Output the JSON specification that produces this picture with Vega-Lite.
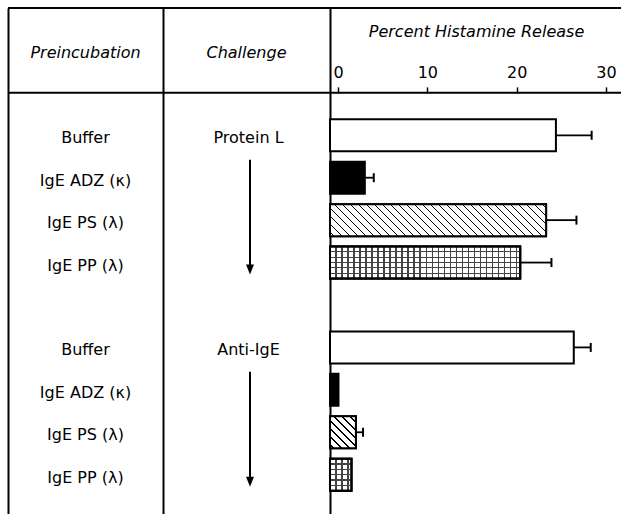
{
  "$schema": "https://vega.github.io/schema/vega-lite/v6.json",
  "padding": {"left": 7, "top": 7, "right": 0, "bottom": 0},
  "config": {"view": {"stroke": null}, "font": "DejaVu Sans", "scale": {"continuousPadding": 0}},
  "datasets": {
    "bars": [
      {"row": 1, "challenge": "Protein L", "preincubation": "Buffer", "kind": "buffer", "value": 24.4, "err": 28.4},
      {"row": 2, "challenge": "Protein L", "preincubation": "IgE ADZ (κ)", "kind": "adz", "value": 3.0, "err": 4.0},
      {"row": 3, "challenge": "Protein L", "preincubation": "IgE PS (λ)", "kind": "ps", "value": 23.3, "err": 26.7},
      {"row": 4, "challenge": "Protein L", "preincubation": "IgE PP (λ)", "kind": "pp", "value": 20.4, "err": 23.9},
      {"row": 6, "challenge": "Anti-IgE", "preincubation": "Buffer", "kind": "buffer", "value": 26.4, "err": 28.3},
      {"row": 7, "challenge": "Anti-IgE", "preincubation": "IgE ADZ (κ)", "kind": "adz", "value": 0.05, "err": null},
      {"row": 8, "challenge": "Anti-IgE", "preincubation": "IgE PS (λ)", "kind": "ps", "value": 2.0, "err": 2.8},
      {"row": 9, "challenge": "Anti-IgE", "preincubation": "IgE PP (λ)", "kind": "pp", "value": 1.5, "err": null}
    ],
    "challenges": [
      {"challenge": "Protein L", "row": 1, "arrowFrom": 2, "arrowTo": 4},
      {"challenge": "Anti-IgE", "row": 6, "arrowFrom": 7, "arrowTo": 9}
    ],
    "headers": [
      {"header": "Preincubation", "row": -1, "line": 0, "top": -2},
      {"header": "Challenge", "row": -1, "line": 0, "top": -2}
    ]
  },
  "spacing": 0,
  "bounds": "flush",
  "hconcat": [
    {
      "width": 155, "height": 507,
      "layer": [
        {"data": {"name": "headers"}, "transform": [{"filter": "datum.header === 'Preincubation'"}], "mark": {"type": "rule", "color": "black", "strokeWidth": 2}, "encoding": {"y": {"field": "top", "type": "quantitative", "scale": {"domain": [-2, 9.95], "reverse": true, "nice": false, "zero": false, "padding": 0}, "axis": {"title": null, "labels": false, "ticks": false, "grid": false, "domain": true, "domainColor": "black", "domainWidth": 2}}}},
        {"data": {"name": "headers"}, "transform": [{"filter": "datum.header === 'Preincubation'"}], "mark": {"type": "rule", "color": "black", "strokeWidth": 2}, "encoding": {"y": {"field": "line", "type": "quantitative", "axis": {"title": null, "labels": false, "ticks": false, "grid": false, "domain": true, "domainColor": "black", "domainWidth": 2}}}},
        {"data": {"name": "headers"}, "transform": [{"filter": "datum.header === 'Preincubation'"}], "mark": {"type": "text", "fontSize": 16, "fontStyle": "italic", "dy": 3, "color": "black"}, "encoding": {"y": {"field": "row", "type": "quantitative", "axis": {"title": null, "labels": false, "ticks": false, "grid": false, "domain": true, "domainColor": "black", "domainWidth": 2}}, "text": {"field": "header"}}},
        {"data": {"name": "bars"}, "mark": {"type": "text", "fontSize": 16, "dy": 3, "color": "black"}, "encoding": {"y": {"field": "row", "type": "quantitative", "axis": {"title": null, "labels": false, "ticks": false, "grid": false, "domain": true, "domainColor": "black", "domainWidth": 2}}, "text": {"field": "preincubation"}}}
      ]
    },
    {
      "width": 167, "height": 507,
      "layer": [
        {"data": {"name": "headers"}, "transform": [{"filter": "datum.header === 'Challenge'"}], "mark": {"type": "rule", "color": "black", "strokeWidth": 2}, "encoding": {"y": {"field": "top", "type": "quantitative", "scale": {"domain": [-2, 9.95], "reverse": true, "nice": false, "zero": false, "padding": 0}, "axis": {"title": null, "labels": false, "ticks": false, "grid": false, "domain": true, "domainColor": "black", "domainWidth": 2}}}},
        {"data": {"name": "headers"}, "transform": [{"filter": "datum.header === 'Challenge'"}], "mark": {"type": "rule", "color": "black", "strokeWidth": 2}, "encoding": {"y": {"field": "line", "type": "quantitative", "axis": {"title": null, "labels": false, "ticks": false, "grid": false, "domain": true, "domainColor": "black", "domainWidth": 2}}}},
        {"data": {"name": "headers"}, "transform": [{"filter": "datum.header === 'Challenge'"}], "mark": {"type": "text", "fontSize": 16, "fontStyle": "italic", "dy": 3, "color": "black"}, "encoding": {"y": {"field": "row", "type": "quantitative", "axis": {"title": null, "labels": false, "ticks": false, "grid": false, "domain": true, "domainColor": "black", "domainWidth": 2}}, "text": {"field": "header"}}},
        {"data": {"name": "challenges"}, "mark": {"type": "text", "fontSize": 16, "dy": 3, "dx": 2, "color": "black"}, "encoding": {"y": {"field": "row", "type": "quantitative", "axis": {"title": null, "labels": false, "ticks": false, "grid": false, "domain": true, "domainColor": "black", "domainWidth": 2}}, "text": {"field": "challenge"}}},
        {"data": {"name": "challenges"}, "mark": {"type": "rule", "color": "black", "strokeWidth": 2, "xOffset": 3.5, "yOffset": -18, "y2Offset": 6}, "encoding": {"y": {"field": "arrowFrom", "type": "quantitative", "axis": {"title": null, "labels": false, "ticks": false, "grid": false, "domain": true, "domainColor": "black", "domainWidth": 2}}, "y2": {"field": "arrowTo"}}},
        {"data": {"name": "challenges"}, "mark": {"type": "point", "shape": "M-0.8,-1L0.8,-1L0,1Z", "size": 100, "filled": true, "color": "black", "opacity": 1, "xOffset": 3.5, "yOffset": 7}, "encoding": {"y": {"field": "arrowTo", "type": "quantitative", "axis": {"title": null, "labels": false, "ticks": false, "grid": false, "domain": true, "domainColor": "black", "domainWidth": 2}}}}
      ]
    },
    {
      "width": 292, "height": 507,
      "data": {"name": "bars"},
      "layer": [
        {"data": {"name": "headers"}, "transform": [{"filter": "datum.header === 'Challenge'"}], "mark": {"type": "rule", "color": "black", "strokeWidth": 2}, "encoding": {"y": {"field": "top", "type": "quantitative", "scale": {"domain": [-2, 9.95], "reverse": true, "nice": false, "zero": false, "padding": 0}, "axis": {"title": null, "labels": false, "ticks": false, "grid": false, "domain": true, "domainColor": "black", "domainWidth": 2}}}},
        {"data": {"name": "headers"}, "transform": [{"filter": "datum.header === 'Challenge'"}], "mark": {"type": "rule", "color": "black", "strokeWidth": 2}, "encoding": {"y": {"field": "line", "type": "quantitative", "axis": {"title": null, "labels": false, "ticks": false, "grid": false, "domain": true, "domainColor": "black", "domainWidth": 2}}}},
        {
          "mark": {"type": "bar", "orient": "horizontal", "height": 32, "stroke": "black", "strokeWidth": 2},
          "encoding": {
            "y": {"field": "row", "type": "quantitative", "axis": {"title": null, "labels": false, "ticks": false, "grid": false, "domain": true, "domainColor": "black", "domainWidth": 2}},
            "x": {"field": "value", "type": "quantitative", "scale": {"domain": [-0.9, 31.8], "nice": false, "zero": false, "padding": 0},
              "axis": {"orient": "top", "offset": -84.9, "values": [0, 10, 20, 30], "domain": false, "grid": false, "ticks": true, "tickSize": 6, "tickWidth": 1.5, "tickColor": "black", "labelFontSize": 16, "labelColor": "black", "labelPadding": 6, "labelFlush": false, "title": "Percent Histamine Release", "titleFontStyle": "italic", "titleFontWeight": "normal", "titleFontSize": 16, "titleColor": "black", "titleY": -53}},
            "x2": {"datum": -0.9},
            "fill": {"condition": {"test": "datum.kind === 'adz'", "value": "black"}, "value": "white"}
          }
        },
        {
          "transform": [{"filter": "datum.kind === 'ps' && datum.challenge === 'Protein L'"}],
          "mark": {"type": "bar", "orient": "horizontal", "height": 32, "stroke": "black", "strokeWidth": 2,
            "fill": {"gradient": "linear", "x1": 0, "y1": 1, "x2": 1.1235, "y2": 0.8336, "stops": [
              {"offset": 0, "color": "#fff"},
              {"offset": 0.0129, "color": "#fff"}, {"offset": 0.0129, "color": "#000"}, {"offset": 0.0194, "color": "#000"}, {"offset": 0.0194, "color": "#fff"},
              {"offset": 0.0452, "color": "#fff"}, {"offset": 0.0452, "color": "#000"}, {"offset": 0.0516, "color": "#000"}, {"offset": 0.0516, "color": "#fff"},
              {"offset": 0.0774, "color": "#fff"}, {"offset": 0.0774, "color": "#000"}, {"offset": 0.0839, "color": "#000"}, {"offset": 0.0839, "color": "#fff"},
              {"offset": 0.1097, "color": "#fff"}, {"offset": 0.1097, "color": "#000"}, {"offset": 0.1161, "color": "#000"}, {"offset": 0.1161, "color": "#fff"},
              {"offset": 0.1419, "color": "#fff"}, {"offset": 0.1419, "color": "#000"}, {"offset": 0.1484, "color": "#000"}, {"offset": 0.1484, "color": "#fff"},
              {"offset": 0.1742, "color": "#fff"}, {"offset": 0.1742, "color": "#000"}, {"offset": 0.1806, "color": "#000"}, {"offset": 0.1806, "color": "#fff"},
              {"offset": 0.2065, "color": "#fff"}, {"offset": 0.2065, "color": "#000"}, {"offset": 0.2129, "color": "#000"}, {"offset": 0.2129, "color": "#fff"},
              {"offset": 0.2387, "color": "#fff"}, {"offset": 0.2387, "color": "#000"}, {"offset": 0.2452, "color": "#000"}, {"offset": 0.2452, "color": "#fff"},
              {"offset": 0.2710, "color": "#fff"}, {"offset": 0.2710, "color": "#000"}, {"offset": 0.2774, "color": "#000"}, {"offset": 0.2774, "color": "#fff"},
              {"offset": 0.3032, "color": "#fff"}, {"offset": 0.3032, "color": "#000"}, {"offset": 0.3097, "color": "#000"}, {"offset": 0.3097, "color": "#fff"},
              {"offset": 0.3355, "color": "#fff"}, {"offset": 0.3355, "color": "#000"}, {"offset": 0.3419, "color": "#000"}, {"offset": 0.3419, "color": "#fff"},
              {"offset": 0.3677, "color": "#fff"}, {"offset": 0.3677, "color": "#000"}, {"offset": 0.3742, "color": "#000"}, {"offset": 0.3742, "color": "#fff"},
              {"offset": 0.4000, "color": "#fff"}, {"offset": 0.4000, "color": "#000"}, {"offset": 0.4065, "color": "#000"}, {"offset": 0.4065, "color": "#fff"},
              {"offset": 0.4323, "color": "#fff"}, {"offset": 0.4323, "color": "#000"}, {"offset": 0.4387, "color": "#000"}, {"offset": 0.4387, "color": "#fff"},
              {"offset": 0.4645, "color": "#fff"}, {"offset": 0.4645, "color": "#000"}, {"offset": 0.4710, "color": "#000"}, {"offset": 0.4710, "color": "#fff"},
              {"offset": 0.4968, "color": "#fff"}, {"offset": 0.4968, "color": "#000"}, {"offset": 0.5032, "color": "#000"}, {"offset": 0.5032, "color": "#fff"},
              {"offset": 0.5290, "color": "#fff"}, {"offset": 0.5290, "color": "#000"}, {"offset": 0.5355, "color": "#000"}, {"offset": 0.5355, "color": "#fff"},
              {"offset": 0.5613, "color": "#fff"}, {"offset": 0.5613, "color": "#000"}, {"offset": 0.5677, "color": "#000"}, {"offset": 0.5677, "color": "#fff"},
              {"offset": 0.5935, "color": "#fff"}, {"offset": 0.5935, "color": "#000"}, {"offset": 0.6000, "color": "#000"}, {"offset": 0.6000, "color": "#fff"},
              {"offset": 0.6258, "color": "#fff"}, {"offset": 0.6258, "color": "#000"}, {"offset": 0.6323, "color": "#000"}, {"offset": 0.6323, "color": "#fff"},
              {"offset": 0.6581, "color": "#fff"}, {"offset": 0.6581, "color": "#000"}, {"offset": 0.6645, "color": "#000"}, {"offset": 0.6645, "color": "#fff"},
              {"offset": 0.6903, "color": "#fff"}, {"offset": 0.6903, "color": "#000"}, {"offset": 0.6968, "color": "#000"}, {"offset": 0.6968, "color": "#fff"},
              {"offset": 0.7226, "color": "#fff"}, {"offset": 0.7226, "color": "#000"}, {"offset": 0.7290, "color": "#000"}, {"offset": 0.7290, "color": "#fff"},
              {"offset": 0.7548, "color": "#fff"}, {"offset": 0.7548, "color": "#000"}, {"offset": 0.7613, "color": "#000"}, {"offset": 0.7613, "color": "#fff"},
              {"offset": 0.7871, "color": "#fff"}, {"offset": 0.7871, "color": "#000"}, {"offset": 0.7935, "color": "#000"}, {"offset": 0.7935, "color": "#fff"},
              {"offset": 0.8194, "color": "#fff"}, {"offset": 0.8194, "color": "#000"}, {"offset": 0.8258, "color": "#000"}, {"offset": 0.8258, "color": "#fff"},
              {"offset": 0.8516, "color": "#fff"}, {"offset": 0.8516, "color": "#000"}, {"offset": 0.8581, "color": "#000"}, {"offset": 0.8581, "color": "#fff"},
              {"offset": 0.8839, "color": "#fff"}, {"offset": 0.8839, "color": "#000"}, {"offset": 0.8903, "color": "#000"}, {"offset": 0.8903, "color": "#fff"},
              {"offset": 0.9161, "color": "#fff"}, {"offset": 0.9161, "color": "#000"}, {"offset": 0.9226, "color": "#000"}, {"offset": 0.9226, "color": "#fff"},
              {"offset": 0.9484, "color": "#fff"}, {"offset": 0.9484, "color": "#000"}, {"offset": 0.9548, "color": "#000"}, {"offset": 0.9548, "color": "#fff"},
              {"offset": 0.9806, "color": "#fff"}, {"offset": 0.9806, "color": "#000"}, {"offset": 0.9871, "color": "#000"}, {"offset": 0.9871, "color": "#fff"},
              {"offset": 1, "color": "#fff"}
            ]}},
          "encoding": {
            "y": {"field": "row", "type": "quantitative", "axis": {"title": null, "labels": false, "ticks": false, "grid": false, "domain": true, "domainColor": "black", "domainWidth": 2}},
            "x": {"field": "value", "type": "quantitative", "axis": {"orient": "top", "offset": -84.9, "values": [0, 10, 20, 30], "domain": false, "grid": false, "ticks": true, "tickSize": 6, "tickWidth": 1.5, "tickColor": "black", "labelFontSize": 16, "labelColor": "black", "labelPadding": 6, "labelFlush": false, "title": "Percent Histamine Release", "titleFontStyle": "italic", "titleFontWeight": "normal", "titleFontSize": 16, "titleColor": "black", "titleY": -53}},
            "x2": {"datum": -0.9}}
        },
        {
          "transform": [{"filter": "datum.kind === 'ps' && datum.challenge === 'Anti-IgE'"}],
          "mark": {"type": "bar", "orient": "horizontal", "height": 32, "stroke": "black", "strokeWidth": 2,
            "fill": {"gradient": "linear", "x1": 0, "y1": 1, "x2": 0.887, "y2": -0.0917, "stops": [
              {"offset": 0, "color": "#fff"},
              {"offset": 0.0552, "color": "#fff"}, {"offset": 0.0552, "color": "#000"}, {"offset": 0.0828, "color": "#000"}, {"offset": 0.0828, "color": "#fff"},
              {"offset": 0.1931, "color": "#fff"}, {"offset": 0.1931, "color": "#000"}, {"offset": 0.2207, "color": "#000"}, {"offset": 0.2207, "color": "#fff"},
              {"offset": 0.3310, "color": "#fff"}, {"offset": 0.3310, "color": "#000"}, {"offset": 0.3586, "color": "#000"}, {"offset": 0.3586, "color": "#fff"},
              {"offset": 0.4690, "color": "#fff"}, {"offset": 0.4690, "color": "#000"}, {"offset": 0.4966, "color": "#000"}, {"offset": 0.4966, "color": "#fff"},
              {"offset": 0.6069, "color": "#fff"}, {"offset": 0.6069, "color": "#000"}, {"offset": 0.6345, "color": "#000"}, {"offset": 0.6345, "color": "#fff"},
              {"offset": 0.7448, "color": "#fff"}, {"offset": 0.7448, "color": "#000"}, {"offset": 0.7724, "color": "#000"}, {"offset": 0.7724, "color": "#fff"},
              {"offset": 0.8828, "color": "#fff"}, {"offset": 0.8828, "color": "#000"}, {"offset": 0.9103, "color": "#000"}, {"offset": 0.9103, "color": "#fff"},
              {"offset": 1, "color": "#fff"}
            ]}},
          "encoding": {
            "y": {"field": "row", "type": "quantitative", "axis": {"title": null, "labels": false, "ticks": false, "grid": false, "domain": true, "domainColor": "black", "domainWidth": 2}},
            "x": {"field": "value", "type": "quantitative", "axis": {"orient": "top", "offset": -84.9, "values": [0, 10, 20, 30], "domain": false, "grid": false, "ticks": true, "tickSize": 6, "tickWidth": 1.5, "tickColor": "black", "labelFontSize": 16, "labelColor": "black", "labelPadding": 6, "labelFlush": false, "title": "Percent Histamine Release", "titleFontStyle": "italic", "titleFontWeight": "normal", "titleFontSize": 16, "titleColor": "black", "titleY": -53}},
            "x2": {"datum": -0.9}}
        },
        {
          "transform": [{"filter": "datum.kind === 'pp' && datum.challenge === 'Protein L'"}],
          "mark": {"type": "bar", "orient": "horizontal", "height": 32, "stroke": "black", "strokeWidth": 2,
            "fill": {"gradient": "linear", "x1": 0, "y1": 0, "x2": 1, "y2": 0, "stops": [
              {"offset": 0, "color": "#fff"},
              {"offset": 0.0284, "color": "#fff"}, {"offset": 0.0284, "color": "#444"}, {"offset": 0.0347, "color": "#444"}, {"offset": 0.0347, "color": "#fff"},
              {"offset": 0.0600, "color": "#fff"}, {"offset": 0.0600, "color": "#444"}, {"offset": 0.0663, "color": "#444"}, {"offset": 0.0663, "color": "#fff"},
              {"offset": 0.0916, "color": "#fff"}, {"offset": 0.0916, "color": "#444"}, {"offset": 0.0979, "color": "#444"}, {"offset": 0.0979, "color": "#fff"},
              {"offset": 0.1232, "color": "#fff"}, {"offset": 0.1232, "color": "#444"}, {"offset": 0.1295, "color": "#444"}, {"offset": 0.1295, "color": "#fff"},
              {"offset": 0.1547, "color": "#fff"}, {"offset": 0.1547, "color": "#444"}, {"offset": 0.1611, "color": "#444"}, {"offset": 0.1611, "color": "#fff"},
              {"offset": 0.1863, "color": "#fff"}, {"offset": 0.1863, "color": "#444"}, {"offset": 0.1926, "color": "#444"}, {"offset": 0.1926, "color": "#fff"},
              {"offset": 0.2179, "color": "#fff"}, {"offset": 0.2179, "color": "#444"}, {"offset": 0.2242, "color": "#444"}, {"offset": 0.2242, "color": "#fff"},
              {"offset": 0.2495, "color": "#fff"}, {"offset": 0.2495, "color": "#444"}, {"offset": 0.2558, "color": "#444"}, {"offset": 0.2558, "color": "#fff"},
              {"offset": 0.2811, "color": "#fff"}, {"offset": 0.2811, "color": "#444"}, {"offset": 0.2874, "color": "#444"}, {"offset": 0.2874, "color": "#fff"},
              {"offset": 0.3126, "color": "#fff"}, {"offset": 0.3126, "color": "#444"}, {"offset": 0.3189, "color": "#444"}, {"offset": 0.3189, "color": "#fff"},
              {"offset": 0.3442, "color": "#fff"}, {"offset": 0.3442, "color": "#444"}, {"offset": 0.3505, "color": "#444"}, {"offset": 0.3505, "color": "#fff"},
              {"offset": 0.3758, "color": "#fff"}, {"offset": 0.3758, "color": "#444"}, {"offset": 0.3821, "color": "#444"}, {"offset": 0.3821, "color": "#fff"},
              {"offset": 0.4074, "color": "#fff"}, {"offset": 0.4074, "color": "#444"}, {"offset": 0.4137, "color": "#444"}, {"offset": 0.4137, "color": "#fff"},
              {"offset": 0.4389, "color": "#fff"}, {"offset": 0.4389, "color": "#444"}, {"offset": 0.4453, "color": "#444"}, {"offset": 0.4453, "color": "#fff"},
              {"offset": 0.4705, "color": "#fff"}, {"offset": 0.4705, "color": "#444"}, {"offset": 0.4768, "color": "#444"}, {"offset": 0.4768, "color": "#fff"},
              {"offset": 0.5021, "color": "#fff"}, {"offset": 0.5021, "color": "#444"}, {"offset": 0.5084, "color": "#444"}, {"offset": 0.5084, "color": "#fff"},
              {"offset": 0.5337, "color": "#fff"}, {"offset": 0.5337, "color": "#444"}, {"offset": 0.5400, "color": "#444"}, {"offset": 0.5400, "color": "#fff"},
              {"offset": 0.5653, "color": "#fff"}, {"offset": 0.5653, "color": "#444"}, {"offset": 0.5716, "color": "#444"}, {"offset": 0.5716, "color": "#fff"},
              {"offset": 0.5968, "color": "#fff"}, {"offset": 0.5968, "color": "#444"}, {"offset": 0.6032, "color": "#444"}, {"offset": 0.6032, "color": "#fff"},
              {"offset": 0.6284, "color": "#fff"}, {"offset": 0.6284, "color": "#444"}, {"offset": 0.6347, "color": "#444"}, {"offset": 0.6347, "color": "#fff"},
              {"offset": 0.6600, "color": "#fff"}, {"offset": 0.6600, "color": "#444"}, {"offset": 0.6663, "color": "#444"}, {"offset": 0.6663, "color": "#fff"},
              {"offset": 0.6916, "color": "#fff"}, {"offset": 0.6916, "color": "#444"}, {"offset": 0.6979, "color": "#444"}, {"offset": 0.6979, "color": "#fff"},
              {"offset": 0.7232, "color": "#fff"}, {"offset": 0.7232, "color": "#444"}, {"offset": 0.7295, "color": "#444"}, {"offset": 0.7295, "color": "#fff"},
              {"offset": 0.7547, "color": "#fff"}, {"offset": 0.7547, "color": "#444"}, {"offset": 0.7611, "color": "#444"}, {"offset": 0.7611, "color": "#fff"},
              {"offset": 0.7863, "color": "#fff"}, {"offset": 0.7863, "color": "#444"}, {"offset": 0.7926, "color": "#444"}, {"offset": 0.7926, "color": "#fff"},
              {"offset": 0.8179, "color": "#fff"}, {"offset": 0.8179, "color": "#444"}, {"offset": 0.8242, "color": "#444"}, {"offset": 0.8242, "color": "#fff"},
              {"offset": 0.8495, "color": "#fff"}, {"offset": 0.8495, "color": "#444"}, {"offset": 0.8558, "color": "#444"}, {"offset": 0.8558, "color": "#fff"},
              {"offset": 0.8811, "color": "#fff"}, {"offset": 0.8811, "color": "#444"}, {"offset": 0.8874, "color": "#444"}, {"offset": 0.8874, "color": "#fff"},
              {"offset": 0.9126, "color": "#fff"}, {"offset": 0.9126, "color": "#444"}, {"offset": 0.9189, "color": "#444"}, {"offset": 0.9189, "color": "#fff"},
              {"offset": 0.9442, "color": "#fff"}, {"offset": 0.9442, "color": "#444"}, {"offset": 0.9505, "color": "#444"}, {"offset": 0.9505, "color": "#fff"},
              {"offset": 0.9758, "color": "#fff"}, {"offset": 0.9758, "color": "#444"}, {"offset": 0.9821, "color": "#444"}, {"offset": 0.9821, "color": "#fff"},
              {"offset": 1, "color": "#fff"}
            ]}},
          "encoding": {
            "y": {"field": "row", "type": "quantitative", "axis": {"title": null, "labels": false, "ticks": false, "grid": false, "domain": true, "domainColor": "black", "domainWidth": 2}},
            "x": {"field": "value", "type": "quantitative", "axis": {"orient": "top", "offset": -84.9, "values": [0, 10, 20, 30], "domain": false, "grid": false, "ticks": true, "tickSize": 6, "tickWidth": 1.5, "tickColor": "black", "labelFontSize": 16, "labelColor": "black", "labelPadding": 6, "labelFlush": false, "title": "Percent Histamine Release", "titleFontStyle": "italic", "titleFontWeight": "normal", "titleFontSize": 16, "titleColor": "black", "titleY": -53}},
            "x2": {"datum": -0.9}}
        },
        {
          "transform": [{"filter": "datum.kind === 'pp' && datum.challenge === 'Anti-IgE'"}],
          "mark": {"type": "bar", "orient": "horizontal", "height": 32, "stroke": "black", "strokeWidth": 2,
            "fill": {"gradient": "linear", "x1": 0, "y1": 0, "x2": 1, "y2": 0, "stops": [
              {"offset": 0, "color": "#fff"},
              {"offset": 0.2523, "color": "#fff"}, {"offset": 0.2523, "color": "#444"}, {"offset": 0.3084, "color": "#444"}, {"offset": 0.3084, "color": "#fff"},
              {"offset": 0.5327, "color": "#fff"}, {"offset": 0.5327, "color": "#444"}, {"offset": 0.5888, "color": "#444"}, {"offset": 0.5888, "color": "#fff"},
              {"offset": 0.8131, "color": "#fff"}, {"offset": 0.8131, "color": "#444"}, {"offset": 0.8692, "color": "#444"}, {"offset": 0.8692, "color": "#fff"},
              {"offset": 1, "color": "#fff"}
            ]}},
          "encoding": {
            "y": {"field": "row", "type": "quantitative", "axis": {"title": null, "labels": false, "ticks": false, "grid": false, "domain": true, "domainColor": "black", "domainWidth": 2}},
            "x": {"field": "value", "type": "quantitative", "axis": {"orient": "top", "offset": -84.9, "values": [0, 10, 20, 30], "domain": false, "grid": false, "ticks": true, "tickSize": 6, "tickWidth": 1.5, "tickColor": "black", "labelFontSize": 16, "labelColor": "black", "labelPadding": 6, "labelFlush": false, "title": "Percent Histamine Release", "titleFontStyle": "italic", "titleFontWeight": "normal", "titleFontSize": 16, "titleColor": "black", "titleY": -53}},
            "x2": {"datum": -0.9}}
        },
        {
          "transform": [{"filter": "datum.kind === 'pp'"}],
          "mark": {"type": "bar", "orient": "horizontal", "height": 32, "stroke": "black", "strokeWidth": 2,
            "fill": {"gradient": "linear", "x1": 0, "y1": 0, "x2": 0, "y2": 1, "stops": [
              {"offset": 0, "color": "rgba(0,0,0,0)"},
              {"offset": 0.1479, "color": "rgba(0,0,0,0)"}, {"offset": 0.1479, "color": "#444"}, {"offset": 0.1854, "color": "#444"}, {"offset": 0.1854, "color": "rgba(0,0,0,0)"},
              {"offset": 0.3146, "color": "rgba(0,0,0,0)"}, {"offset": 0.3146, "color": "#444"}, {"offset": 0.3521, "color": "#444"}, {"offset": 0.3521, "color": "rgba(0,0,0,0)"},
              {"offset": 0.4812, "color": "rgba(0,0,0,0)"}, {"offset": 0.4812, "color": "#444"}, {"offset": 0.5188, "color": "#444"}, {"offset": 0.5188, "color": "rgba(0,0,0,0)"},
              {"offset": 0.6479, "color": "rgba(0,0,0,0)"}, {"offset": 0.6479, "color": "#444"}, {"offset": 0.6854, "color": "#444"}, {"offset": 0.6854, "color": "rgba(0,0,0,0)"},
              {"offset": 0.8146, "color": "rgba(0,0,0,0)"}, {"offset": 0.8146, "color": "#444"}, {"offset": 0.8521, "color": "#444"}, {"offset": 0.8521, "color": "rgba(0,0,0,0)"},
              {"offset": 1, "color": "rgba(0,0,0,0)"}
            ]}},
          "encoding": {
            "y": {"field": "row", "type": "quantitative", "axis": {"title": null, "labels": false, "ticks": false, "grid": false, "domain": true, "domainColor": "black", "domainWidth": 2}},
            "x": {"field": "value", "type": "quantitative", "axis": {"orient": "top", "offset": -84.9, "values": [0, 10, 20, 30], "domain": false, "grid": false, "ticks": true, "tickSize": 6, "tickWidth": 1.5, "tickColor": "black", "labelFontSize": 16, "labelColor": "black", "labelPadding": 6, "labelFlush": false, "title": "Percent Histamine Release", "titleFontStyle": "italic", "titleFontWeight": "normal", "titleFontSize": 16, "titleColor": "black", "titleY": -53}},
            "x2": {"datum": -0.9}}
        },
        {
          "transform": [{"filter": "isValid(datum.err)"}],
          "mark": {"type": "rule", "color": "black", "strokeWidth": 1.8},
          "encoding": {
            "y": {"field": "row", "type": "quantitative", "axis": {"title": null, "labels": false, "ticks": false, "grid": false, "domain": true, "domainColor": "black", "domainWidth": 2}},
            "x": {"field": "value", "type": "quantitative", "axis": {"orient": "top", "offset": -84.9, "values": [0, 10, 20, 30], "domain": false, "grid": false, "ticks": true, "tickSize": 6, "tickWidth": 1.5, "tickColor": "black", "labelFontSize": 16, "labelColor": "black", "labelPadding": 6, "labelFlush": false, "title": "Percent Histamine Release", "titleFontStyle": "italic", "titleFontWeight": "normal", "titleFontSize": 16, "titleColor": "black", "titleY": -53}},
            "x2": {"field": "err"}}
        },
        {
          "transform": [{"filter": "isValid(datum.err)"}],
          "mark": {"type": "tick", "orient": "vertical", "size": 9, "thickness": 2, "color": "black", "opacity": 1},
          "encoding": {
            "y": {"field": "row", "type": "quantitative", "axis": {"title": null, "labels": false, "ticks": false, "grid": false, "domain": true, "domainColor": "black", "domainWidth": 2}},
            "x": {"field": "err", "type": "quantitative", "axis": {"orient": "top", "offset": -84.9, "values": [0, 10, 20, 30], "domain": false, "grid": false, "ticks": true, "tickSize": 6, "tickWidth": 1.5, "tickColor": "black", "labelFontSize": 16, "labelColor": "black", "labelPadding": 6, "labelFlush": false, "title": "Percent Histamine Release", "titleFontStyle": "italic", "titleFontWeight": "normal", "titleFontSize": 16, "titleColor": "black", "titleY": -53}}}
        }
      ]
    }
  ]
}
